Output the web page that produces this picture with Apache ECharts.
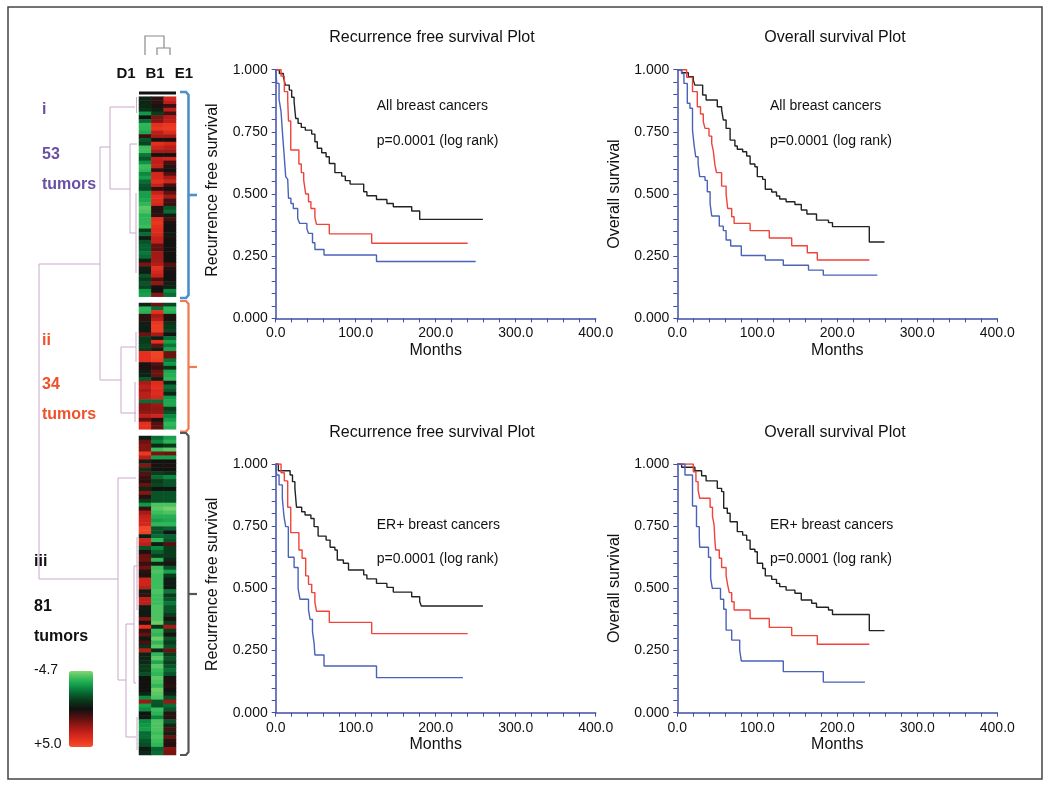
<!DOCTYPE html>
<html><head><meta charset="utf-8">
<style>html,body{margin:0;padding:0;background:#fff}#c{width:1050px;height:789px}</style>
<script src="https://cdn.jsdelivr.net/npm/echarts@6/dist/echarts.min.js"></script>
</head><body><div id="c"></div>
<script>
// Survival curves: [month, survival proportion from that month on]
const rfsAllBlack=[[0,1],[4.6,.985],[9.6,.972],[12,.938],[17,.918],[20,.889],[23,.871],[25,.804],[28,.784],[32,.768],[37,.757],[45,.741],[49,.71],[52,.684],[57.5,.666],[63,.65],[67,.623],[74,.586],[82.5,.572],[87,.554],[93,.54],[110,.509],[114,.493],[126,.478],[139,.462],[147,.449],[170,.432],[180,.398],[259,.398]];
const rfsAllRed=[[0,1],[6.7,.974],[10.8,.912],[15,.878],[16,.794],[18.8,.677],[29,.621],[32,.586],[35,.556],[37.5,.5],[41,.469],[44,.442],[49,.405],[51,.378],[67,.34],[120,.302],[240,.302]];
const rfsAllBlue=[[0,1],[1.3,.945],[4.2,.881],[6.7,.831],[8.8,.731],[10.4,.664],[12.5,.57],[15,.559],[16,.483],[19,.462],[22,.442],[27.5,.402],[30,.382],[39,.36],[41,.342],[46,.304],[49,.277],[60.4,.255],[126,.229],[250,.229]];
const osAllBlack=[[0,1],[5.4,.988],[13.8,.972],[20,.958],[22,.938],[31.7,.898],[36,.878],[50,.851],[55.4,.838],[57.5,.798],[61,.764],[66,.717],[72,.693],[75,.68],[81.7,.67],[86.7,.653],[91,.621],[97,.61],[100,.57],[106.7,.559],[110,.519],[118,.508],[124,.492],[128,.48],[136,.469],[147,.458],[155,.436],[162,.42],[174,.395],[189,.385],[194,.369],[240,.307],[259,.307]];
const osAllRed=[[0,1],[11.7,.969],[19,.912],[25,.851],[29,.822],[32.5,.791],[34.6,.764],[39.6,.733],[43,.704],[45,.674],[47,.617],[49,.586],[55.4,.532],[61,.5],[63,.442],[68,.409],[71,.382],[91,.353],[115,.323],[143,.292],[162.5,.264],[175,.235],[240,.235]];
const osAllBlue=[[0,1],[5.4,.985],[8.3,.945],[12.5,.865],[15.8,.845],[19,.757],[21,.697],[23,.65],[26,.623],[28,.57],[34.6,.555],[37.5,.509],[41,.462],[43,.412],[52.5,.371],[57.5,.353],[61,.315],[66.7,.291],[80,.253],[110,.235],[132.5,.214],[164,.194],[182.5,.174],[250,.174]];
const rfsErBlack=[[0,1],[3.3,.973],[18,.956],[21,.929],[24,.902],[26,.826],[32.5,.808],[36.7,.795],[44,.781],[48,.748],[53,.71],[63,.694],[68,.665],[74,.654],[77,.614],[84.6,.601],[91,.574],[110,.554],[114,.538],[126,.52],[139,.504],[147,.485],[170,.466],[180,.446],[182,.429],[259,.429]];
const rfsErRed=[[0,1],[6.7,.965],[10.8,.932],[15,.826],[18.8,.724],[29,.654],[33,.621],[37.5,.55],[41,.516],[45,.483],[49,.444],[51,.408],[67,.363],[120,.318],[240,.318]];
const rfsErBlue=[[0,1],[1.3,.956],[4.2,.916],[8.3,.862],[10.4,.788],[12.5,.748],[15.8,.625],[23,.584],[28,.5],[30.4,.456],[41,.413],[43,.375],[46,.326],[48,.279],[49,.232],[60.4,.188],[126,.141],[234,.141]];
const osErBlack=[[0,1],[5.4,.987],[22,.973],[30.4,.953],[36,.932],[50,.902],[55.4,.889],[58,.822],[62.5,.802],[66,.768],[75,.728],[81.7,.714],[86.7,.694],[91,.657],[97,.647],[100,.601],[106.7,.58],[110,.55],[118,.536],[124,.52],[128,.507],[136,.493],[147,.48],[155,.453],[168,.44],[174,.424],[189,.413],[194,.395],[240,.33],[259,.33]];
const osErRed=[[0,1],[20,.969],[23.3,.929],[26,.895],[28,.862],[41,.826],[44,.788],[46,.755],[47,.692],[48,.654],[52.5,.621],[55.4,.584],[61,.55],[63,.513],[65,.483],[68,.446],[71,.413],[91,.379],[115,.343],[143,.31],[175,.275],[240,.275]];
const osErBlue=[[0,1],[9.6,.956],[19,.831],[24,.748],[27.5,.708],[28,.665],[39,.625],[41.7,.54],[43.8,.5],[54,.456],[58,.416],[61,.332],[68,.292],[78,.252],[80,.208],[132.5,.165],[182.5,.123],[234.6,.123]];

// Heatmap columns and rows [D1, B1, E1], log-ratio colour scale
const columns=['D1','B1','E1'];
const clusterI=[[-.3,.5,3.5],[-.4,.6,3],[-.5,.4,.8],[-.8,-.3,3],[-2.8,-1,1],[.1,1.8,2.8],[-2,2,3],[-3.6,4,4.2],[-3.5,4.2,4.4],[-3.2,3,3.8],
[.8,2.6,2.6],[-1.6,.1,.2],[-1.2,4,3.6],[-3.8,3.4,3],[-3.8,2.6,2.5],[-2.2,.1,.1],[-1.6,3.2,3.4],[-2.7,3,1],[-3.8,3.2,.5],[-3.6,.7,.2],
[-2.5,3.5,1.2],[-3,3.6,2.6],[-2,4,3.4],[-1.6,3.2,1],[-1.4,.6,.2],[-3,3.2,1.4],[-3,4,2.5],[-3.2,3.8,1],[-3.6,3.6,.8],[-4.2,.5,-1.5],
[-4,.5,-2],[-3.5,.7,-.2],[-3.6,4,1],[-3.6,4.2,.3],[-3.8,4,.2],[-1,3.8,.2],[-2,3.6,-.1],[-.2,3.2,.3],[-1.5,3.2,.1],[-1.8,1.5,.2],
[-1.8,1.4,.2],[-2.2,2.5,.2],[-2,2.5,.1],[-.3,2.6,.2],[1.8,2.8,1.2],[-.3,4,.5],[-.2,3.6,.2],[-1.5,3.2,.2],[-1,1.2,.2],[-1.5,2.2,-.3],
[-1.2,.3,-.3],[-2.8,.1,-2.5],[-3,2,-2]];
const clusterII=[[-.4,1.6,-1.2],[-3.6,-2,-3.6],[-3.4,4,-3.4],[.6,2.6,.4],[.6,3,.4],[-.2,4.2,-.8],[-.2,4.4,-.9],[-.2,4.4,-1.2],[1.6,2.6,.2],[-1,-.2,-2],
[-1,4,-3],[-1.2,1.4,-2.2],[-1,-.2,-3],[4,4.6,1.6],[4,4.6,1.6],[4,4.4,-2.2],[.3,1.2,-2.8],[.4,.8,-.8],[-.2,1.6,-3.2],[-.3,1.6,-3.4],
[-1.6,-.2,-3.6],[2.6,3.8,-.3],[3,4,-2],[2.6,3.8,-1.6],[3,3.8,-.4],[3,3.6,-2.8],[-2,-2,-3.2],[2,2.4,-3.2],[2,2.2,-1],[2.2,2.4,-1.5],
[3,3.4,-2.5],[1.4,.4,-3],[4,1.2,-3.6],[4,1.4,-3.4]];
const clusterIII=[[-.1,-2,-3],[1.6,-2.5,-3.5],[2,-.5,-1],[2,-3.8,-4.2],[4.3,1.8,1.6],[3,-3,-3],[-.3,.2,.2],[2,.3,.3],[-.8,.2,.2],[1.2,-1,-.7],
[.8,-2,-2.5],[.5,-1,-1.5],[1.5,-1.2,-1.5],[-.5,.1,.2],[2,-1.5,-1.5],[.5,-1.5,-1.5],[-1,-1.5,-1.5],[-2.8,-4,-4],[.8,-4.2,-4.5],[2.6,-3.8,-4],
[3.2,-3.4,-3.4],[3.4,-3,-3.2],[3.6,-3.6,-3.6],[4.8,-1.5,-1.8],[4.6,-1.5,0],[-.2,-2,-1.8],[3.4,-3.6,-1.5],[3,-.2,1.2],[-1.5,-2.5,-1],[.4,-1.8,-1],
[1.5,-1,-1],[1.6,-3.6,-.5],[.8,-.3,.4],[1.6,-3.8,-1.5],[.5,-4,-3],[.4,-3.8,-1],[3.4,-3.8,-.2],[3.4,-3.8,-.1],[3,-3.8,-.1],[-.2,-4,-2.2],
[.8,-3.8,-1],[3,-3.8,-1.5],[3,-3.8,-2.2],[-.2,-4,-1.5],[-.1,-4,-1.5],[-.1,-4,-1],[2,-4,.4],[.3,-4.4,-1],[4,-.8,2.6],[.8,-3.8,-1],
[1.4,-3.6,.4],[-.1,-4.4,-1.5],[1,-3.6,-1],[-.8,-4.2,-1.5],[2.8,-.5,1.6],[-.3,-3.6,-1],[-.4,-4.2,-1.5],[-.5,-3.2,-1],[-1,-4.2,-1.5],[-1,-3.8,-2],
[-1.4,-3.6,-1.5],[.1,-4.2,.3],[.1,-4,.4],[.1,-3.6,.5],[.2,-4.4,.2],[-.4,-4.2,-.3],[-2.6,-4,-1.4],[2.4,-1.6,2.4],[-3,-1.5,-2],[-2.6,-3.8,-1.5],
[.1,-3.5,.5],[-.1,-2.5,.5],[-2.6,-4,-1.5],[-2.8,-4,-.5],[-3,-4,1],[-2,-3.8,-.3],[-2,-4,1.5],[-1.6,-3.8,.5],[-1.4,-3.6,.4],[-.1,-1.8,2],[-.5,-2,1.8]];
const colorStops=['#86d46e','#35bb5c','#0d9645','#086030','#0a3418','#111111','#4d1010','#8a1612','#c01f1a','#e5301f','#f4502a'];

const FONT='"Liberation Sans",Arial,sans-serif';
const panels=[
 {left:275.7,top:69.7,title:'Recurrence free survival Plot',tx:432,ty:38,yName:'Recurrence free survival',note:'All breast cancers',noteY:106,pY:141,noteX:376.7,curves:[rfsAllBlack,rfsAllRed,rfsAllBlue]},
 {left:677.3,top:69.7,title:'Overall survival Plot',tx:835,ty:38,yName:'Overall survival',note:'All breast cancers',noteY:106,pY:141,noteX:770,curves:[osAllBlack,osAllRed,osAllBlue]},
 {left:275.7,top:464,title:'Recurrence free survival Plot',tx:432,ty:433,yName:'Recurrence free survival',note:'ER+ breast cancers',noteY:525,pY:559.5,noteX:376.7,curves:[rfsErBlack,rfsErRed,rfsErBlue]},
 {left:677.3,top:464,title:'Overall survival Plot',tx:835,ty:433,yName:'Overall survival',note:'ER+ breast cancers',noteY:525,pY:559.5,noteX:770,curves:[osErBlack,osErRed,osErBlue]}
];
const curveColors=['#222222','#f0433a','#4a62b8'];
const AXIS='#3f4fa8';
const grids=[],xAxes=[],yAxes=[],series=[],graphics=[];

panels.forEach((p,i)=>{
  grids.push({left:p.left,top:p.top,width:320,height:248.7,outerBoundsMode:'none'});
  xAxes.push({type:'value',gridIndex:i,min:0,max:400,interval:20,name:'Months',nameLocation:'middle',nameGap:24,
    nameTextStyle:{fontFamily:FONT,fontSize:16,color:'#111'},splitLine:{show:false},
    axisLine:{onZero:false,lineStyle:{color:AXIS,width:1.5}},axisTick:{length:4,lineStyle:{color:AXIS,width:1}},
    axisLabel:{fontFamily:FONT,fontSize:14,color:'#111',margin:8,formatter:v=>v%100===0?v.toFixed(1):''}});
  yAxes.push({type:'value',gridIndex:i,min:0,max:1,interval:.05,name:p.yName,nameLocation:'middle',nameGap:55,
    nameTextStyle:{fontFamily:FONT,fontSize:16,color:'#111',padding:i%2===0?[0,0,0,8]:0},splitLine:{show:false},
    axisLine:{onZero:false,lineStyle:{color:AXIS,width:1.5}},axisTick:{length:4,lineStyle:{color:AXIS,width:1}},
    axisLabel:{fontFamily:FONT,fontSize:14,color:'#111',margin:8,formatter:v=>Math.round(v*1000)%250===0?v.toFixed(3):''}});
  p.curves.forEach((c,k)=>series.push({type:'line',xAxisIndex:i,yAxisIndex:i,data:c,step:'end',symbol:'none',silent:true,
    lineStyle:{color:curveColors[k],width:1.4}}));
  graphics.push(txt(p.tx,p.ty,p.title,{fontSize:16,textAlign:'center'}));
  graphics.push(txt(p.noteX,p.noteY,p.note,{fontSize:14}));
  graphics.push(txt(p.noteX,p.pY,'p=0.0001 (log rank)',{fontSize:14}));
});

// Heatmap blocks
const blocks=[{rows:clusterI,top:96.7,height:200},{rows:clusterII,top:303,height:126.3},{rows:clusterIII,top:436,height:319}];
blocks.forEach(b=>{
  const g=grids.length;
  grids.push({left:139,width:37,top:b.top,height:b.height,outerBoundsMode:'none'});
  xAxes.push({type:'category',gridIndex:g,data:columns,show:false});
  yAxes.push({type:'category',gridIndex:g,data:b.rows.map((_,r)=>r),inverse:true,show:false});
  const cells=[];
  b.rows.forEach((row,r)=>row.forEach((v,c)=>cells.push([c,r,v])));
  series.push({type:'heatmap',xAxisIndex:g,yAxisIndex:g,data:cells,silent:true,itemStyle:{borderWidth:0},emphasis:{disabled:true}});
});
const heatSeries=series.map((s,i)=>s.type==='heatmap'?i:-1).filter(i=>i>=0);

function txt(x,y,text,o){return {type:'text',silent:true,x:x,y:y,style:Object.assign({text:text,fontFamily:FONT,fill:'#111',textVerticalAlign:'middle',textBaseline:'middle',textAlign:'left'},o||{})};}
function path(pts,color,width){return {type:'polyline',silent:true,shape:{points:pts},style:{stroke:color,lineWidth:width,fill:null}};}

// Frame
graphics.push({type:'rect',silent:true,shape:{x:8,y:7,width:1034,height:772},style:{fill:null,stroke:'#444',lineWidth:1.5}});
// Top bar above heat map
graphics.push({type:'rect',silent:true,shape:{x:139,y:91.5,width:37,height:3},style:{fill:'#111'}});
// Column dendrogram
[[[145,55],[145,36],[164,36],[164,48]],[[157,55],[157,48],[170,48],[170,55]]].forEach(s=>graphics.push(path(s,'#8a8a8a',1.2)));
// Column headers
[['D1',126],['B1',155],['E1',184]].forEach(h=>graphics.push(txt(h[1],74,h[0],{fontSize:15,fontWeight:'bold',textAlign:'center'})));
// Row dendrogram
const PINK='#c9a8c9';
[
 [[100,264],[39,264],[39,579],[118,579]],
 [[110,147],[100,147],[100,380],[121,380]],
 [[135,107],[110,107],[110,189],[130,189]],
 [[137,144],[130,144],[130,233],[136,233]],
 [[136.5,97],[136.5,113]],[[136,193],[136,273]],
 [[136,347],[121,347],[121,413],[136,413]],
 [[136,332],[136,362]],[[135,382],[135,422]],
 [[136,478],[118,478],[118,680],[126,680]],
 [[134,624],[126,624],[126,737],[136,737]],
 [[137,566],[134,566],[134,683],[136,683]],
 [[137,537],[137,610]],[[137,717],[137,750]]
].forEach(s=>graphics.push(path(s,PINK,1)));
// Cluster brackets
[
 {c:'#4f8fc8',t:92,b:298,m:195,w:2.6},
 {c:'#ef7a50',t:301,b:431.7,m:367,w:2.2},
 {c:'#555555',t:433,b:755,m:594,w:2.2}
].forEach(k=>{
  graphics.push(path([[180,k.t],[186,k.t],[188.5,k.t+3],[188.5,k.b-3],[186,k.b],[180,k.b]],k.c,k.w));
  graphics.push(path([[188.5,k.m],[197,k.m]],k.c,k.w));
});
// Cluster labels
[[42,110,'i','#6b4fa5'],[42,155,'53','#6b4fa5'],[42,185,'tumors','#6b4fa5'],
 [42,341,'ii','#f0502a'],[42,385,'34','#f0502a'],[42,415,'tumors','#f0502a'],
 [34,562,'iii','#111'],[34,607,'81','#111'],[34,637,'tumors','#111']
].forEach(l=>graphics.push(txt(l[0],l[1],l[2],{fontSize:16,fontWeight:'bold',fill:l[3]})));
// Colour scale labels
graphics.push(txt(34,670,'-4.7',{fontSize:14}));
graphics.push(txt(34,744,'+5.0',{fontSize:14}));

const chart=echarts.init(document.getElementById('c'),null,{renderer:'canvas'});
chart.setOption({
  animation:false,backgroundColor:'#fff',
  grid:grids,xAxis:xAxes,yAxis:yAxes,series:series,
  visualMap:{type:'continuous',min:-4.7,max:5,inverse:true,seriesIndex:heatSeries,calculable:false,show:true,
    left:69,top:671,itemWidth:24,itemHeight:76,padding:0,text:null,showLabel:false,realtime:false,
    inRange:{color:colorStops}},
  graphic:{elements:graphics}
});
</script></body></html>
